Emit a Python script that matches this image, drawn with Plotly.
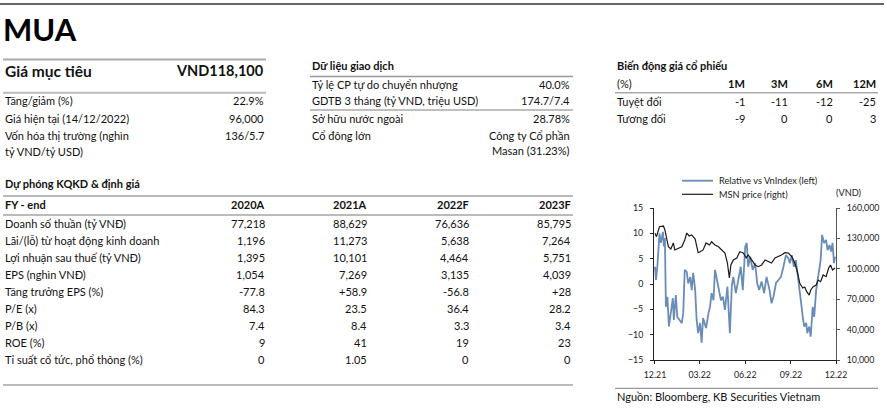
import plotly.graph_objects as go
import pandas as pd

W, H = 887, 409

# ---------------- data ----------------
rating = "MUA"
target_label = "Giá mục tiêu"
target_value = "VND118,100"
summary_labels = ["Tăng/giảm (%)", "Giá hiện tại (14/12/2022)", "Vốn hóa thị trường (nghìn", "tỷ VND/tỷ USD)"]
summary_values = ["22.9%", "96,000", "136/5.7", ""]

trading_title = "Dữ liệu giao dịch"
trading_labels = ["Tỷ lệ CP tự do chuyển nhượng", "GDTB 3 tháng (tỷ VND, triệu USD)",
                  "Sở hữu nước ngoài", "Cổ đông lớn", ""]
trading_values = ["40.0%", "174.7/7.4", "28.78%", "Công ty Cổ phần", "Masan (31.23%)"]

perf_title = "Biến động giá cổ phiếu"
perf_header = "(%)"
perf_periods = ["1M", "3M", "6M", "12M"]
perf_row_labels = ["Tuyệt đối", "Tương đối"]
perf_abs = [-1, -11, -12, -25]
perf_rel = [-9, 0, 0, 3]

fc_title = "Dự phóng KQKD & định giá"
fc_header = "FY - end"
fc_years = ["2020A", "2021A", "2022F", "2023F"]
fc_items = ["Doanh số thuần (tỷ VNĐ)", "Lãi/(lỗ) từ hoạt động kinh doanh", "Lợi nhuận sau thuế (tỷ VNĐ)",
            "EPS (nghìn VNĐ)", "Tăng trưởng EPS (%)", "P/E (x)", "P/B (x)", "ROE (%)",
            "Tỉ suất cổ tức, phổ thông (%)"]
fc_2020 = ["77,218", "1,196", "1,395", "1,054", "-77.8", "84.3", "7.4", "9", "0"]
fc_2021 = ["88,629", "11,273", "10,101", "7,269", "+58.9", "23.5", "8.4", "41", "1.05"]
fc_2022 = ["76,636", "5,638", "4,464", "3,135", "-56.8", "36.4", "3.3", "19", "0"]
fc_2023 = ["85,795", "7,264", "5,751", "4,039", "+28", "28.2", "3.4", "23", "0"]

source_text = "Nguồn: Bloomberg, KB Securities Vietnam"

# price chart series (days since 2021-12-01)
chart_start = "2021-12-01"
price_days = [0, 3, 9, 17, 20, 24, 27, 32, 37, 40, 47, 54, 60, 64, 69, 74, 81, 84, 87, 91,
              97, 103, 110, 114, 121, 128, 134, 141, 146, 150, 153, 158, 165, 171, 178, 184, 188, 195, 202, 208,
              215, 222, 228, 235, 242, 249, 255, 262, 269, 276, 282, 287, 292, 298, 302, 306, 311, 314, 319, 325,
              329, 334, 339, 345, 350, 354, 358, 363]
msn_price = [135000, 131700, 141500, 142200, 138300, 130400, 121800, 119500, 125500, 118600,
             120500, 121800, 128400, 135300, 132400, 133400, 129400, 121800, 115900, 116900,
             118600, 125500, 123500, 126700, 123500, 121800, 118600, 115600, 105700, 90900,
             103800, 108700, 110700, 116900, 115600, 110700, 113600, 108700, 103800, 102100,
             103800, 108700, 107000, 105700, 110700, 111900, 113600, 115900, 115600, 111900,
             105700, 97100, 85700, 81100, 82000, 77400, 74100, 79100, 82300, 84000,
             88900, 87300, 93900, 92200, 100500, 103800, 98800, 100800]
rel_days = [0, 2, 5, 9, 12, 16, 18, 20, 22, 25, 28, 32, 36, 38, 42, 45, 49, 54, 57, 60,
            64, 67, 71, 74, 77, 81, 84, 87, 91, 94, 97, 103, 108, 111, 114, 118, 121, 124, 128, 133,
            137, 141, 146, 151, 155, 158, 163, 168, 173, 177, 182, 185, 188, 192, 197, 202, 206, 210, 215, 220,
            225, 231, 235, 239, 244, 249, 254, 259, 264, 269, 272, 276, 280, 284, 289, 294, 298, 301, 305, 307,
            311, 314, 318, 321, 325, 329, 334, 337, 341, 345, 348, 352, 355, 358, 361, 363]
rel_vnindex = [3.4, 0.8, 3.75, 10.0, 8.1, 10.3, 7.4, 9.1, -4.5, -2.5, -8.4, -5.1, -2.8, -7.1, -2.2, -6.5, -7.1, -7.7, -5.7, 2.8,
               2.4, 0.1, 1.4, -1.2, 2.2, -1.2, -7.1, -9.7, -7.7, -11.6, -6.7, -8.7, -5.7, -4.5, -1.8, -3.2, 2.8, 1.4, -0.2, -3.2,
               -2.5, -5.1, -0.5, -9.7, -0.2, 1.4, -1.8, 0.8, 3.4, -1.2, 7.4, 8.1, 3.4, 5.4, 2.8, 4.1, 0.2, -1.2, 0.5, -1.8,
               1.4, -1.2, -3.8, -2.5, 0.2, 0.8, 1.4, 3.4, 5.7, 5.1, 4.1, 5.7, 3.4, 4.7, 0.2, -3.2, -6.5, -8.4, -7.7, -9.7,
               -8.4, -10.4, -4.5, -6.5, -1.2, 1.4, 4.7, 9.7, 8.1, 8.7, 6.7, 7.7, 6.4, 8.1, 4.1, 5.4]
x_ticks = ["2021-12-01", "2022-03-01", "2022-06-01", "2022-09-01", "2022-12-01"]
left_ticks = [-15, -10, -5, 0, 5, 10, 15]
right_ticks = [10000, 40000, 70000, 100000, 130000, 160000]
legend_names = ["Relative vs VnIndex (left)", "MSN price (right)"]
unit_label = "(VND)"

# ---------------- styles ----------------
FONT = "Lato"
TXT = "#111111"
BLUE = "#6a8cb8"
BLACK = "#1a1a1a"
BODY = 11
CH = 9.2
TICK = 8.8


def px(x):
    return x / W


def py(y):
    return 1 - y / H


base = pd.Timestamp(chart_start)
price_dates = [base + pd.Timedelta(days=d) for d in price_days]
rel_dates = [base + pd.Timedelta(days=d) for d in rel_days]

fig = go.Figure()
fig.add_trace(go.Scatter(x=rel_dates, y=rel_vnindex, mode="lines", name=legend_names[0],
                         line=dict(color=BLUE, width=1.8), yaxis="y"))
fig.add_trace(go.Scatter(x=price_dates, y=msn_price, mode="lines", name=legend_names[1],
                         line=dict(color=BLACK, width=1.2), yaxis="y2"))

ann = []


def text(x, y, s, anchor="left", size=BODY, bold=False, color=TXT, family=FONT):
    ann.append(dict(x=px(x), y=py(y), xref="paper", yref="paper", text=s, showarrow=False,
                    xanchor=anchor, yanchor="middle",
                    font=dict(family=family, size=size, color=color, weight="bold" if bold else "normal")))


shapes = []


def hline(x0, x1, y, color, width):
    shapes.append(dict(type="line", xref="paper", yref="paper", x0=px(x0), x1=px(x1), y0=py(y), y1=py(y),
                       line=dict(color=color, width=width)))


# top rule + rating
hline(0, 884, 4, "#333333", 1.5)
text(1, 29, rating, size=31, bold=True, color="#000000")

# left summary block
hline(3, 266, 59.5, "#aaaaaa", 2)
text(3, 71, target_label, size=15.5, bold=True)
text(266, 71, target_value, anchor="right", size=14.5, bold=True)
hline(3, 266, 92.7, "#bbbbbb", 2)
sum_y = [101, 118.3, 135.6, 151.7]
for lab, val, yy in zip(summary_labels, summary_values, sum_y):
    text(3, yy, lab)
    if val:
        text(266, yy, val, anchor="right")

# middle trading block
text(310, 66, trading_title, bold=True)
hline(310, 573, 76.5, "#999999", 1.5)
tr_y = [84.3, 101, 118.3, 135, 150.7]
for lab, val, yy in zip(trading_labels, trading_values, tr_y):
    if lab:
        text(310, yy, lab)
    text(572, yy, val, anchor="right")
hline(310, 573, 110, "#aaaaaa", 1.5)

# right performance block
text(615, 66, perf_title, bold=True)
perf_x = [746.7, 790, 835, 878]
text(615, 83.3, perf_header)
for p, xx in zip(perf_periods, perf_x):
    text(xx, 83.3, p, anchor="right", bold=True)
hline(615, 878, 92.7, "#aaaaaa", 1.5)
for vals, lab, yy in zip([perf_abs, perf_rel], perf_row_labels, [101.7, 118.3]):
    text(615, yy, lab)
    for v, xx in zip(vals, perf_x):
        text(xx, yy, str(v), anchor="right")

# forecast table
text(3, 183.3, fc_title, bold=True)
hline(3, 573, 196, "#777777", 1.2)
fc_x = [266.7, 369.3, 470.7, 572.7]
text(3, 204, fc_header, bold=True)
for yr, xx in zip(fc_years, fc_x):
    text(xx, 204, yr, anchor="right", bold=True)
hline(3, 573, 215, "#bbbbbb", 2)
for i, item in enumerate(fc_items):
    yy = 223.3 + 17 * i
    text(3, yy, item)
    for col, xx in zip([fc_2020, fc_2021, fc_2022, fc_2023], fc_x):
        text(xx, yy, col[i], anchor="right")
hline(3, 573, 385, "#bbbbbb", 2)

# chart legend / labels
hline(682, 713, 180.7, BLUE, 1.8)
hline(682, 713, 194.3, BLACK, 1.2)
text(716.7, 180.7, legend_names[0], size=CH, color="#222222")
text(716.7, 194.3, legend_names[1], size=CH, color="#222222")
text(849, 192.7, unit_label, anchor="center", size=CH, color="#222222")

# source
hline(615, 878, 388.3, "#999999", 1.2)
text(615, 396.7, source_text, size=11)

fig.update_layout(
    width=W, height=H, margin=dict(l=0, r=0, t=0, b=0),
    paper_bgcolor="white", plot_bgcolor="white", showlegend=False,
    font=dict(family=FONT, size=CH, color="#222222"),
    annotations=ann, shapes=shapes,
    xaxis=dict(domain=[px(654), px(836)], range=["2021-11-29", "2022-12-01"], type="date",
               tickvals=x_ticks, tickformat="%m.%y", showline=True, linecolor="#222222", linewidth=1,
               ticks="outside", ticklen=3, tickcolor="#222222", showgrid=False, zeroline=False,
               tickfont=dict(size=TICK), anchor="y", automargin=False, ticklabelstandoff=3),
    yaxis=dict(domain=[py(360), py(208)], range=[-15, 15], tickvals=left_ticks,
               showline=True, linecolor="#222222", linewidth=1, ticks="outside", ticklen=3,
               tickcolor="#222222", showgrid=False, zeroline=False, tickfont=dict(size=TICK),
               automargin=False, ticklabelstandoff=5),
    yaxis2=dict(overlaying="y", side="right", anchor="x", range=[10000, 160000], tickvals=right_ticks,
                tickformat=",", showline=True, linecolor="#555555", linewidth=1, ticks="outside",
                ticklen=3, tickcolor="#555555", showgrid=False, zeroline=False, tickfont=dict(size=TICK),
                automargin=False, ticklabelstandoff=5),
)

fig.write_html("out.html", config={"displayModeBar": False},
               post_script="document.body.style.margin='0';document.body.style.overflow='hidden';")
